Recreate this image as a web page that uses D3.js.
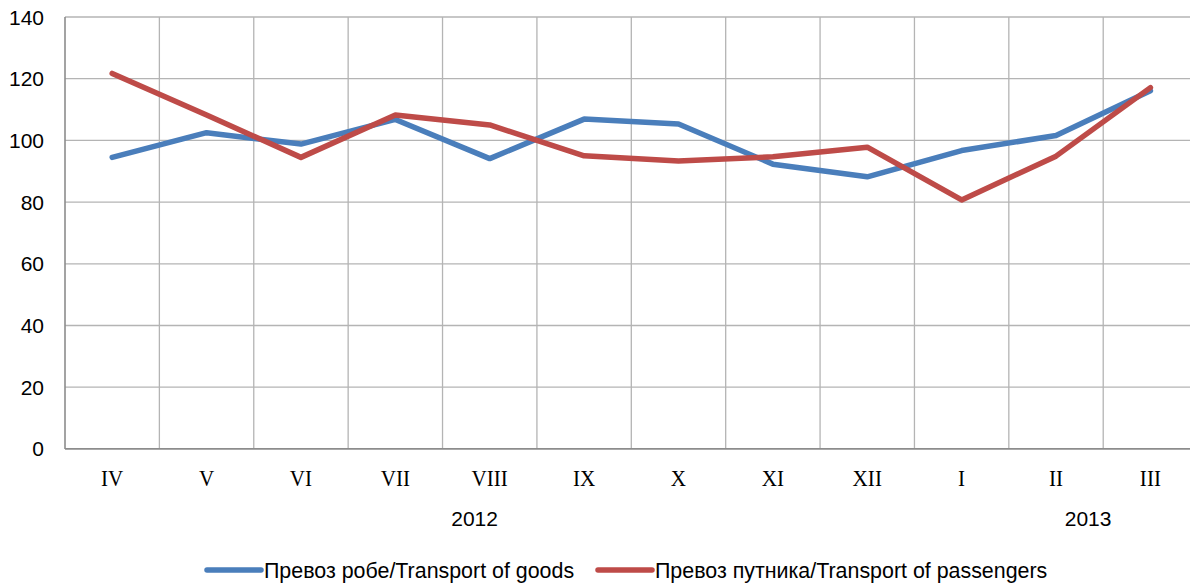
<!DOCTYPE html>
<meta charset="utf-8">
<script src="https://d3js.org/d3.v7.min.js"></script>
<style>
  body { margin: 0; background: #fff; }
  svg { display: block; overflow: hidden; }
</style>
<div id="chart"></div>
<script>

// categories (months Apr 2012 - Mar 2013)
var months = ["IV", "V", "VI", "VII", "VIII", "IX", "X", "XI", "XII", "I", "II", "III"];
var goods = [94.5, 102.5, 98.8, 106.8, 94.1, 106.9, 105.3, 92.3, 88.2, 96.7, 101.6, 116.1];
var passengers = [121.7, 108.2, 94.5, 108.2, 105.0, 95.0, 93.3, 94.7, 97.8, 80.7, 94.9, 117.1];
var yTicks = [0, 20, 40, 60, 80, 100, 120, 140];
// year labels, placed at a (fractional) category index
var years = [{label: "2012", at: 4.34}, {label: "2013", at: 10.84}];
var seriesNames = ["Превоз робе/Transport of goods", "Превоз путника/Transport of passengers"];

var W = 1190, H = 583;
var plotL = 65, plotR = 1197.6, plotT = 17, plotB = 448.9;

var svg = d3.select("#chart").append("svg")
    .attr("width", W)
    .attr("height", H);

var x = d3.scaleBand().domain(months).range([plotL, plotR]);
var xi = d3.scaleLinear().domain([0, months.length]).range([plotL, plotR]);
var y = d3.scaleLinear().domain([0, 140]).range([plotB, plotT]);

// horizontal grid
svg.append("g")
    .selectAll("line")
    .data(yTicks.filter(function(d) { return d > 0; }))
    .enter().append("line")
    .attr("x1", plotL).attr("x2", plotR)
    .attr("y1", function(d) { return y(d); })
    .attr("y2", function(d) { return y(d); })
    .attr("stroke", "#b4b4b4")
    .attr("stroke-width", 1.3);

// vertical grid at category boundaries
svg.append("g")
    .selectAll("line")
    .data(d3.range(1, months.length + 1))
    .enter().append("line")
    .attr("x1", function(d) { return xi(d); })
    .attr("x2", function(d) { return xi(d); })
    .attr("y1", plotT).attr("y2", plotB)
    .attr("stroke", "#b4b4b4")
    .attr("stroke-width", 1.3);

// axis lines
svg.append("line")
    .attr("x1", plotL).attr("x2", plotL)
    .attr("y1", plotT).attr("y2", plotB)
    .attr("stroke", "#8c8c8c").attr("stroke-width", 1.6);
svg.append("line")
    .attr("x1", plotL).attr("x2", plotR)
    .attr("y1", plotB).attr("y2", plotB)
    .attr("stroke", "#8c8c8c").attr("stroke-width", 1.6);

// y tick labels
svg.append("g")
    .selectAll("text")
    .data(yTicks)
    .enter().append("text")
    .attr("x", 44)
    .attr("y", function(d) { return y(d) + 7.5; })
    .attr("text-anchor", "end")
    .style("font-family", "Liberation Sans")
    .style("font-size", "21px")
    .text(function(d) { return d; });

// month labels (condensed serif)
svg.append("g")
    .selectAll("text")
    .data(months)
    .enter().append("text")
    .attr("transform", function(d) {
        return "translate(" + (x(d) + x.bandwidth() / 2) + ",486) scale(0.88,1)";
    })
    .attr("text-anchor", "middle")
    .style("font-family", "Liberation Serif")
    .style("font-size", "24px")
    .text(function(d) { return d; });

// year labels
svg.append("g")
    .selectAll("text")
    .data(years)
    .enter().append("text")
    .attr("x", function(d) { return xi(d.at); })
    .attr("y", 526)
    .attr("text-anchor", "middle")
    .style("font-family", "Liberation Sans")
    .style("font-size", "21px")
    .text(function(d) { return d.label; });

var line = d3.line()
    .x(function(d, i) { return x(months[i]) + x.bandwidth() / 2; })
    .y(function(d) { return y(d); });

var colors = ["#4a7ebb", "#be4b48"];

[goods, passengers].forEach(function(s, k) {
    svg.append("path")
        .datum(s)
        .attr("d", line)
        .attr("fill", "none")
        .attr("stroke", colors[k])
        .attr("stroke-width", 5.5)
        .attr("stroke-linejoin", "round")
        .attr("stroke-linecap", "round");
});

// legend
var legendX = [207, 598];
var lg = svg.append("g")
    .selectAll("g")
    .data(seriesNames)
    .enter().append("g")
    .attr("transform", function(d, i) { return "translate(" + legendX[i] + ",570)"; });

lg.append("line")
    .attr("x1", 0).attr("x2", 54)
    .attr("stroke", function(d, i) { return colors[i]; })
    .attr("stroke-width", 5.5)
    .attr("stroke-linecap", "round");

lg.append("text")
    .attr("x", 57)
    .attr("y", 7.5)
    .style("font-family", "Liberation Sans")
    .style("font-size", "21.4px")
    .text(function(d) { return d; });

</script>
